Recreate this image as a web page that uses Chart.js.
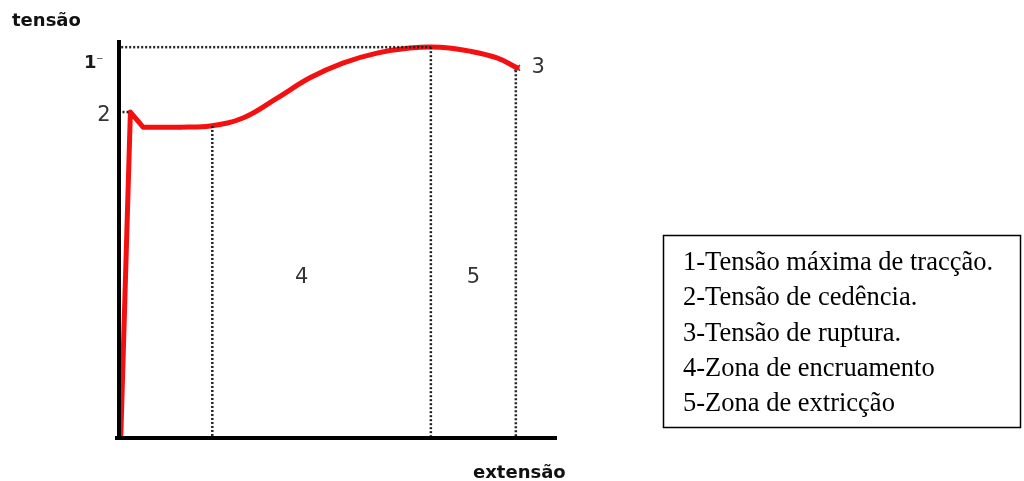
<!DOCTYPE html>
<html>
<head>
<meta charset="utf-8">
<script src="https://cdn.jsdelivr.net/npm/chart.js@4"></script>
<style>
  html, body { margin: 0; padding: 0; background: #fff; }
  #wrap { width: 1024px; height: 481px; }
</style>
</head>
<body>
<div id="wrap"><canvas id="curva" width="1024" height="481"></canvas></div>
<script>
// curva tensao-extensao (escala 0..100)
var elasticX = [0, 0.4, 2.6, 5.5, 13.9];
var elasticY = [0, 0, 81.9, 78.1, 78.1];
var plasticX = [13.9, 20.8, 28.3, 36.1, 43.6, 51.1, 58.9, 66.4, 73.3, 80.1, 86.3, 90.9];
var plasticY = [78.1, 78.4, 80.4, 85.4, 90.5, 94.2, 96.7, 98.0, 98.2, 97.2, 95.5, 93.0];
var ruptura = { x: 90.9, y: 93.0 };

// linhas de referencia tracejadas
var refMaxY = 98.2;
var refYieldY = 81.9;
var zoneX = [21.3, 71.2, 90.6];
var zoneTop = [78.4, 98.2, 92.4];

var legendItems = [
  "1-Tensão máxima de tracção.",
  "2-Tensão de cedência.",
  "3-Tensão de ruptura.",
  "4-Zona de encruamento",
  "5-Zona de extricção"
];

function toPoints(xs, ys) {
  return xs.map(function (x, i) { return { x: x, y: ys[i] }; });
}

var dotted = {
  borderColor: '#222',
  borderWidth: 2.5,
  borderDash: [2, 2],
  pointRadius: 0,
  tension: 0,
  fill: false
};

var datasets = [];
datasets.push(Object.assign({}, dotted, { data: [{ x: 0.5, y: refMaxY }, { x: zoneX[1], y: refMaxY }] }));
datasets.push(Object.assign({}, dotted, { data: [{ x: 0.8, y: refYieldY }, { x: 2.3, y: refYieldY }] }));
zoneX.forEach(function (x, i) {
  datasets.push(Object.assign({}, dotted, { data: [{ x: x, y: zoneTop[i] }, { x: x, y: 0 }] }));
});
datasets.push({
  data: toPoints(elasticX, elasticY),
  borderColor: '#f41010',
  borderWidth: 5,
  pointRadius: 0,
  tension: 0,
  borderJoinStyle: 'round'
});
datasets.push({
  data: toPoints(plasticX, plasticY),
  borderColor: '#f41010',
  borderWidth: 5,
  pointRadius: 0,
  tension: 0.4,
  borderCapStyle: 'round'
});
datasets.push({
  data: [ruptura],
  showLine: false,
  pointStyle: 'crossRot',
  pointRadius: 4,
  borderColor: '#444',
  borderWidth: 1.5
});

var extras = {
  id: 'extras',
  afterDatasetsDraw: function (chart) {
    var ctx = chart.ctx;
    var a = chart.chartArea;
    var sx = chart.scales.x, sy = chart.scales.y;
    ctx.save();
    // eixos
    ctx.strokeStyle = '#000';
    ctx.lineWidth = 4;
    ctx.beginPath();
    ctx.moveTo(a.left, a.top);
    ctx.lineTo(a.left, a.bottom + 2);
    ctx.moveTo(a.left - 4, a.bottom);
    ctx.lineTo(a.right, a.bottom);
    ctx.stroke();

    // titulos dos eixos
    ctx.fillStyle = '#111';
    ctx.font = 'bold 18px "DejaVu Sans"';
    ctx.textBaseline = 'alphabetic';
    ctx.fillText('tensão', 12, 26);
    ctx.fillText('extensão', 473, 478);

    // marcas numericas
    ctx.font = 'bold 18px "DejaVu Sans"';
    ctx.fillStyle = '#1a1a1a';
    ctx.fillText('1', 84, 68);
    ctx.font = '14px "DejaVu Sans"';
    ctx.fillText('⁻', 96, 66);
    ctx.font = '21px "DejaVu Sans"';
    ctx.fillStyle = '#333';
    ctx.textAlign = 'center';
    ctx.fillText('2', 104, 121);
    ctx.fillText('3', sx.getPixelForValue(ruptura.x) + 21, sy.getPixelForValue(ruptura.y) + 5);
    ctx.fillText('4', sx.getPixelForValue((zoneX[0] + zoneX[1]) / 2) - 20, 283);
    ctx.fillText('5', sx.getPixelForValue((zoneX[1] + zoneX[2]) / 2), 283);

    // caixa da legenda
    ctx.textAlign = 'left';
    ctx.strokeStyle = '#000';
    ctx.lineWidth = 1.5;
    ctx.strokeRect(663.5, 235.5, 357, 192);
    ctx.fillStyle = '#000';
    ctx.font = '26.5px "Liberation Serif"';
    legendItems.forEach(function (t, i) {
      ctx.fillText(t, 683, 270 + i * 35.25);
    });
    ctx.restore();
  }
};

new Chart(document.getElementById('curva'), {
  type: 'line',
  data: { datasets: datasets },
  options: {
    responsive: false,
    animation: false,
    layout: { padding: { left: 119, right: 1024 - 557, top: 40, bottom: 481 - 438 } },
    plugins: { legend: { display: false }, tooltip: { enabled: false } },
    scales: {
      x: { type: 'linear', min: 0, max: 100, display: false },
      y: { type: 'linear', min: 0, max: 100, display: false }
    }
  },
  plugins: [extras]
});
</script>
</body>
</html>
